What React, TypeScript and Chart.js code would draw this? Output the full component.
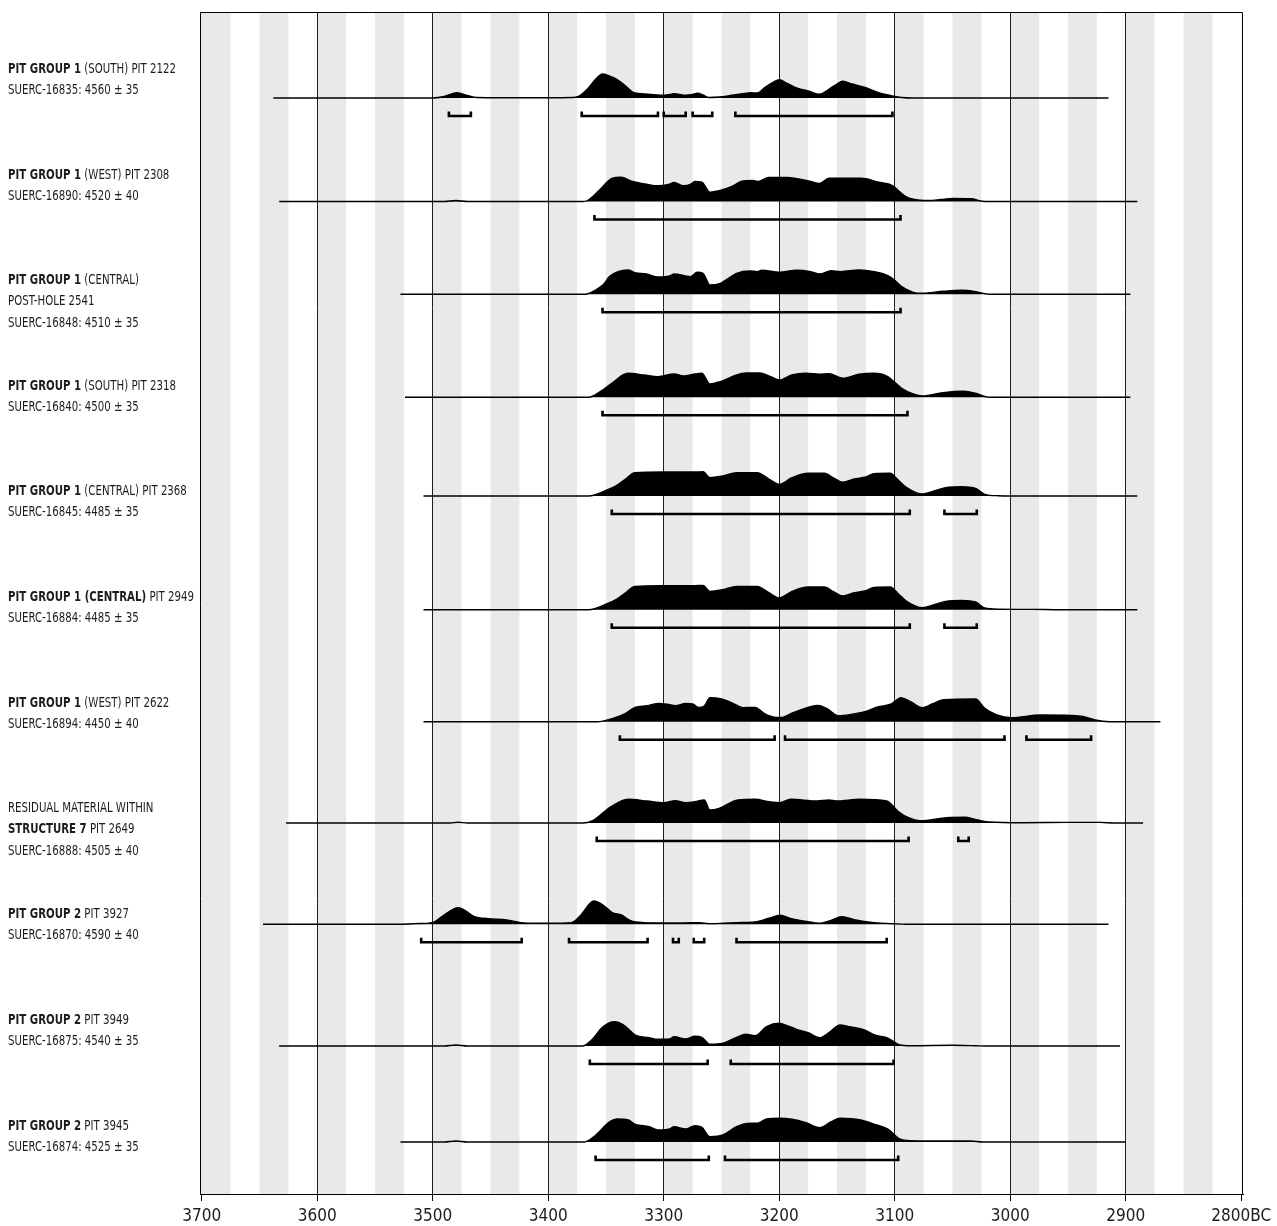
import React, { useEffect, useRef } from 'react';
import { Chart, registerables } from 'chart.js';

Chart.register(...registerables);

// ---------- axis ----------
const yearMin = 2798.5;
const yearMax = 3701.5;
const tickYears = [3700, 3600, 3500, 3400, 3300, 3200, 3100, 3000, 2900, 2800];
const tickLabels = ['3700', '3600', '3500', '3400', '3300', '3200', '3100', '3000', '2900', '2800BC'];

// ---------- rows (layout of the 11 dates) ----------
const rowPositions = [98, 201.5, 294.3, 397.3, 496, 609.7, 721.7, 823, 924.3, 1046, 1142];
const rowStart = [3638, 3633, 3528, 3524, 3508, 3508, 3508, 3627, 3647, 3633, 3528];
const rowEnd = [2915, 2890, 2896, 2896, 2890, 2890, 2870, 2885, 2915, 2905, 2900];
const labelTop = [69, 175, 280, 386, 491, 597, 703, 808, 914, 1020, 1126];

type Seg = [string, boolean];
const labels: Seg[][][] = [
  [[['PIT GROUP 1', true], [' (SOUTH) PIT 2122', false]], [['SUERC-16835: 4560 ± 35', false]]],
  [[['PIT GROUP 1', true], [' (WEST) PIT 2308', false]], [['SUERC-16890: 4520 ± 40', false]]],
  [[['PIT GROUP 1', true], [' (CENTRAL)', false]], [['POST-HOLE 2541', false]], [['SUERC-16848: 4510 ± 35', false]]],
  [[['PIT GROUP 1', true], [' (SOUTH) PIT 2318', false]], [['SUERC-16840: 4500 ± 35', false]]],
  [[['PIT GROUP 1', true], [' (CENTRAL) PIT 2368', false]], [['SUERC-16845: 4485 ± 35', false]]],
  [[['PIT GROUP 1 (CENTRAL)', true], [' PIT 2949', false]], [['SUERC-16884: 4485 ± 35', false]]],
  [[['PIT GROUP 1', true], [' (WEST) PIT 2622', false]], [['SUERC-16894: 4450 ± 40', false]]],
  [[['RESIDUAL MATERIAL WITHIN', false]], [['STRUCTURE 7', true], [' PIT 2649', false]], [['SUERC-16888: 4505 ± 40', false]]],
  [[['PIT GROUP 2', true], [' PIT 3927', false]], [['SUERC-16870: 4590 ± 40', false]]],
  [[['PIT GROUP 2', true], [' PIT 3949', false]], [['SUERC-16875: 4540 ± 35', false]]],
  [[['PIT GROUP 2', true], [' PIT 3945', false]], [['SUERC-16874: 4525 ± 35', false]]],
];

// ---------- probability densities: [year BC, height] ----------
const density1 = [[3500,0],[3490,1.5],[3479,5.3],[3470,2.5],[3462,0.5],[3440,0.3],[3400,0.3],[3380,0.5],[3374,1.5],[3366,9],[3358,20],[3353,24],[3347,22],[3341,19],[3334,13],[3327,6],[3317,4],[3305,3],[3301,2.7],[3295,3.5],[3291,4.3],[3286,3.5],[3281,2.7],[3275,3.5],[3271,4.7],[3266,3],[3261,0.5],[3252,1],[3241,2.7],[3230,4.5],[3225,5.3],[3219,5],[3212,11],[3205,16],[3200,18.3],[3193,14.5],[3185,10],[3175,7],[3165,3.7],[3158,8],[3150,14],[3145,16.7],[3137,14],[3125,10.3],[3114,5.3],[3102,2],[3094,0.5],[3085,0]];
const density2 = [[3490,0],[3480,1],[3470,0],[3370,0],[3366,1],[3356,11],[3345,23],[3337,24.3],[3327,20],[3316,17.5],[3305,15.7],[3296,17],[3291,19],[3283,15.7],[3277,17],[3273,20],[3267,19.3],[3260,9.3],[3249,11.7],[3241,15],[3233,20],[3223,21],[3219,20],[3209,24],[3193,24],[3173,20],[3165,18],[3157,23.3],[3129,23.3],[3114,19.3],[3102,16],[3096,10],[3090,4.7],[3078,1.3],[3070,1],[3060,2],[3050,3],[3034,2.7],[3024,0.3],[3018,0]];
const density3 = [[3368,0],[3359,4.3],[3352,10],[3347,17.7],[3331,24.3],[3325,21.7],[3315,20.3],[3305,17.3],[3295,18.3],[3291,20.3],[3277,17.7],[3271,22],[3266,21],[3260,9.3],[3251,11],[3244,16],[3237,21],[3225,23.3],[3219,22.7],[3215,24],[3200,22],[3185,24],[3173,22.7],[3165,20.3],[3155,23.7],[3147,22.7],[3131,24.3],[3118,22.7],[3106,18.7],[3100,14],[3094,7.7],[3084,2],[3076,1],[3058,3],[3042,4],[3030,2.7],[3018,0]];
const density4 = [[3365,0],[3355,5.7],[3345,14],[3331,24],[3317,22.3],[3305,20.7],[3291,23.3],[3283,21.3],[3273,23.3],[3267,24],[3260,13.3],[3251,15.7],[3237,22.3],[3229,24.3],[3217,24.3],[3208,21],[3200,17.3],[3189,22.3],[3177,24],[3165,23],[3157,23.7],[3145,19],[3131,23],[3118,24],[3106,20.7],[3100,15],[3094,9],[3084,3.3],[3076,1.3],[3058,4.7],[3040,6],[3030,4],[3018,0]];
const density5 = [[3365,0],[3349,6],[3341,10.3],[3333,17],[3325,23.3],[3301,24],[3273,24],[3266,24.3],[3260,18.3],[3249,20],[3237,23.3],[3219,23.3],[3209,17],[3200,11.7],[3189,18.3],[3175,22.7],[3161,22.7],[3153,18],[3145,13.7],[3135,17],[3125,19],[3118,22.3],[3104,22.7],[3097,16],[3090,8.7],[3076,2],[3066,5],[3056,8.3],[3042,9.3],[3030,7.7],[3022,1.7],[3010,0.3],[2990,0]];
const density6 = [[3365,0],[3349,6],[3341,10.3],[3333,17],[3325,23.3],[3301,24],[3273,24],[3266,24.3],[3260,18.3],[3249,20],[3237,23.3],[3219,23.3],[3209,17],[3200,11.7],[3189,18.3],[3175,22.7],[3161,22.7],[3153,18],[3145,13.7],[3135,17],[3125,19],[3118,22.3],[3104,22.7],[3097,16],[3090,8.7],[3076,2],[3066,5],[3056,8.3],[3042,9.3],[3030,7.7],[3022,1.7],[3010,0.5],[2980,0.3],[2960,0]];
const density7 = [[3358,0],[3341.5,4.3],[3333,8.3],[3325,14.3],[3314.5,16],[3304,18.3],[3296,17.3],[3290,16],[3281,18.3],[3275,17.7],[3270,14.3],[3265,15.7],[3260,24],[3250,22.7],[3240,18.3],[3231.5,14],[3221,14.3],[3213,8.3],[3202.5,4.3],[3198.5,4.3],[3188,9],[3166.4,16.3],[3159,13.3],[3148.5,6],[3138,7.3],[3126,10],[3115,14.7],[3103,17.7],[3094.6,24],[3086.3,20],[3076,14],[3067.6,17.7],[3057.3,22],[3030,22.7],[3022,13.3],[3011.6,6.7],[2999,4],[2974,6.7],[2947,6.3],[2937,5.3],[2926.5,1.7],[2914,0]];
const density8 = [[3485,0],[3478,0.7],[3470,0],[3370.5,0],[3362,2],[3345.6,16.3],[3331,23.7],[3314.5,22],[3300,20.3],[3290,22.3],[3281,20.3],[3273,21.3],[3265,23],[3260,13],[3252,14.7],[3235.7,23],[3221,23.7],[3208.7,21.3],[3199.6,20.3],[3190,23.7],[3167.2,22],[3157,23],[3150.6,22],[3130,23.7],[3107,22],[3096.7,11.3],[3088,5.3],[3078,2.3],[3055,5.3],[3038.6,5.7],[3028,3],[3018,1],[2989,0.3],[2950,0.6],[2922,0.6],[2910,0]];
const density9 = [[3530,0],[3515,0.7],[3500,1.7],[3492,7.7],[3478,16.7],[3472,13.7],[3464,7.7],[3452,5.7],[3436,4.3],[3424,1.7],[3412,1],[3400,1],[3380,1.7],[3372.5,8.3],[3360.5,23.3],[3352.6,19.3],[3344.6,11.7],[3336.7,9.3],[3328.7,3.7],[3316.8,1.7],[3301,1.3],[3285,1.3],[3269,1.7],[3261,0.7],[3237,1.7],[3221,2.3],[3209,6],[3199.4,9],[3189.5,5.7],[3175,2.5],[3165.6,1],[3155.7,3.7],[3145.8,7.7],[3134,4.3],[3118,1.7],[3102,0.7],[3090,0]];
const density10 = [[3490,0],[3480,1],[3470,0],[3370.5,0],[3362.5,6],[3352.6,19.3],[3342.6,24.3],[3334.7,21],[3324.7,11],[3312.7,8.3],[3305,6.7],[3295,7],[3291,9.3],[3281,7],[3273,9.7],[3267,8.7],[3260,1.7],[3249,2.7],[3237,8.7],[3229,11.7],[3221,10.3],[3211,19.3],[3200,22.7],[3193,20.3],[3185,16.7],[3175,13.3],[3165,8.3],[3157,13.3],[3147.4,21],[3139.4,19.3],[3127.5,16.7],[3117.5,11],[3105.6,7.7],[3095.6,1],[3085.7,0.3],[3050,0.7],[3030,0.3],[3020,0]];
const density11 = [[3490,0],[3480,1],[3470,0],[3368.5,0],[3360.6,5.3],[3346.6,20.3],[3340.6,23],[3330.7,22],[3324.7,17.7],[3312.7,15.3],[3305,12],[3295,13],[3291,15.3],[3281,13],[3273,16.3],[3267,14.7],[3260,5.3],[3249,7],[3237,15.3],[3225,18.7],[3219,18.7],[3211,23],[3200,23.7],[3189,22.7],[3177,19.3],[3165,14.3],[3155,20.3],[3147.4,23.7],[3129.5,22],[3117.5,17.7],[3105.6,12.7],[3095.6,3],[3085.7,1.3],[3058,1],[3034,1],[3024,0]];
const densities = [density1, density2, density3, density4, density5, density6, density7, density8, density9, density10, density11];

// ---------- 95.4% calibrated ranges (cal BC) ----------
const ranges1 = [[3486,3467],[3371,3305],[3300,3281],[3275,3258],[3238,3102]];
const ranges2 = [[3360,3095]];
const ranges3 = [[3353,3095]];
const ranges4 = [[3353,3089]];
const ranges5 = [[3345,3087],[3057,3029]];
const ranges6 = [[3345,3087],[3057,3029]];
const ranges7 = [[3338,3204],[3195,3005],[2986,2930]];
const ranges8 = [[3358,3088],[3045,3036]];
const ranges9 = [[3510,3423],[3382,3314],[3292,3287],[3274,3265],[3237,3107]];
const ranges10 = [[3364,3262],[3242,3101]];
const ranges11 = [[3359,3261],[3247,3097]];
const ranges = [ranges1, ranges2, ranges3, ranges4, ranges5, ranges6, ranges7, ranges8, ranges9, ranges10, ranges11];

const INK = '#000000';
const TEXT = '#1f1b1c';
const STRIPE = '#e9e9e9';

function pickFont(): string {
  const c = document.createElement('canvas').getContext('2d');
  if (!c) return 'Liberation Sans';
  const test = 'PIT GROUP 1 (SOUTH) 2122 SUERC';
  c.font = '20px monospace';
  const mono = c.measureText(test).width;
  for (const f of ['Liberation Sans Narrow', 'Arial Narrow', 'DejaVu Sans Condensed']) {
    c.font = `20px "${f}", monospace`;
    if (Math.abs(c.measureText(test).width - mono) > 0.5) return f;
  }
  return 'Liberation Sans';
}

export default function App() {
  const ref = useRef<HTMLCanvasElement | null>(null);

  useEffect(() => {
    const canvas = ref.current;
    if (!canvas) return;
    const fam = `"${pickFont()}", "Liberation Sans", sans-serif`;
    const labelSize = 14;
    const lineGap = 21.5;

    const datasets: any[] = [];
    densities.forEach((d, i) => {
      const base = rowPositions[i];
      const pts = [{ x: rowStart[i], y: base }]
        .concat(d.map(([yr, h]) => ({ x: yr, y: base - h })))
        .concat([{ x: rowEnd[i], y: base }]);
      datasets.push({
        type: 'line',
        data: pts,
        borderColor: INK,
        borderWidth: 1.4,
        backgroundColor: INK,
        fill: { value: base },
        pointRadius: 0,
        cubicInterpolationMode: 'monotone',
      });
      const bp: any[] = [];
      ranges[i].forEach(([a, b]) => {
        bp.push({ x: a, y: base + 13.5 }, { x: a, y: base + 18 }, { x: b, y: base + 18 }, { x: b, y: base + 13.5 }, { x: b, y: null });
      });
      datasets.push({
        type: 'line',
        data: bp,
        borderColor: INK,
        borderWidth: 2.6,
        fill: false,
        pointRadius: 0,
        tension: 0,
        spanGaps: false,
        borderJoinStyle: 'miter',
        borderCapStyle: 'butt',
      });
    });

    const decor = {
      id: 'decor',
      beforeDraw(chart: any) {
        const { ctx, chartArea } = chart;
        const xs = chart.scales.x;
        ctx.save();
        ctx.fillStyle = STRIPE;
        for (let y = 3700; y > 2800; y -= 50) {
          const x1 = y === 3700 ? chartArea.left : xs.getPixelForValue(y);
          const x2 = xs.getPixelForValue(y - 25);
          ctx.fillRect(x1, chartArea.top, x2 - x1, chartArea.bottom - chartArea.top);
        }
        ctx.restore();
      },
      afterDraw(chart: any) {
        const { ctx, chartArea } = chart;
        const ys = chart.scales.y;
        ctx.save();
        ctx.strokeStyle = INK;
        ctx.lineWidth = 1;
        const l = Math.round(chartArea.left) + 0.5;
        const r = Math.round(chartArea.right) - 0.5;
        const t = Math.round(chartArea.top) + 0.5;
        const b = Math.round(chartArea.bottom);
        ctx.beginPath();
        ctx.moveTo(l, b);
        ctx.lineTo(l, t);
        ctx.lineTo(r, t);
        ctx.lineTo(r, b);
        ctx.stroke();
        // labels
        ctx.fillStyle = TEXT;
        ctx.textBaseline = 'middle';
        ctx.textAlign = 'left';
        const widthOf = (segs: Seg[]) => {
          let w = 0;
          segs.forEach(([tx, bold]) => {
            ctx.font = `${bold ? 'bold ' : ''}${labelSize}px ${fam}`;
            w += ctx.measureText(tx).width;
          });
          return w;
        };
        const sx = Math.min(1, 168 / widthOf(labels[0][0]));
        labels.forEach((lines, i) => {
          lines.forEach((segs, j) => {
            const py = ys.getPixelForValue(labelTop[i] + j * lineGap);
            ctx.save();
            ctx.translate(8, py);
            ctx.scale(sx, 1);
            let x = 0;
            segs.forEach(([tx, bold]) => {
              ctx.font = `${bold ? 'bold ' : ''}${labelSize}px ${fam}`;
              ctx.fillText(tx, x, 0);
              x += ctx.measureText(tx).width;
            });
            ctx.restore();
          });
        });
        ctx.restore();
      },
    };

    const chart = new Chart(canvas, {
      type: 'line',
      data: { datasets },
      options: {
        animation: false,
        responsive: false,
        devicePixelRatio: 1,
        events: [],
        layout: { padding: { left: 200, right: 34, top: 12, bottom: 0 } },
        plugins: { legend: { display: false }, tooltip: { enabled: false } },
        scales: {
          x: {
            type: 'linear',
            min: yearMin,
            max: yearMax,
            reverse: true,
            afterBuildTicks: (s: any) => {
              s.ticks = tickYears.map((v) => ({ value: v }));
            },
            afterFit: (s: any) => {
              s.height = 32;
            },
            ticks: {
              autoSkip: false,
              maxRotation: 0,
              padding: 5,
              color: TEXT,
              font: { family: fam, size: 17 },
              callback: (v: any) => tickLabels[tickYears.indexOf(Number(v))] ?? '',
            },
            grid: {
              color: (c: any) => (c.tick && (c.tick.value === 3700 || c.tick.value === 2800) ? 'rgba(0,0,0,0)' : '#1e1e1e'),
              lineWidth: 1,
              tickLength: 7,
              tickColor: INK,
              drawOnChartArea: true,
            },
            border: { display: true, color: INK, width: 1 },
          },
          y: { type: 'linear', display: false, min: 12, max: 1194, reverse: true },
        },
      } as any,
      plugins: [decor],
    });
    return () => chart.destroy();
  }, []);

  return (
    <div style={{ position: 'fixed', left: 0, top: 0, width: 1277, height: 1226, background: '#fff' }}>
      <canvas ref={ref} width={1277} height={1226} style={{ display: 'block', width: 1277, height: 1226 }} />
    </div>
  );
}
